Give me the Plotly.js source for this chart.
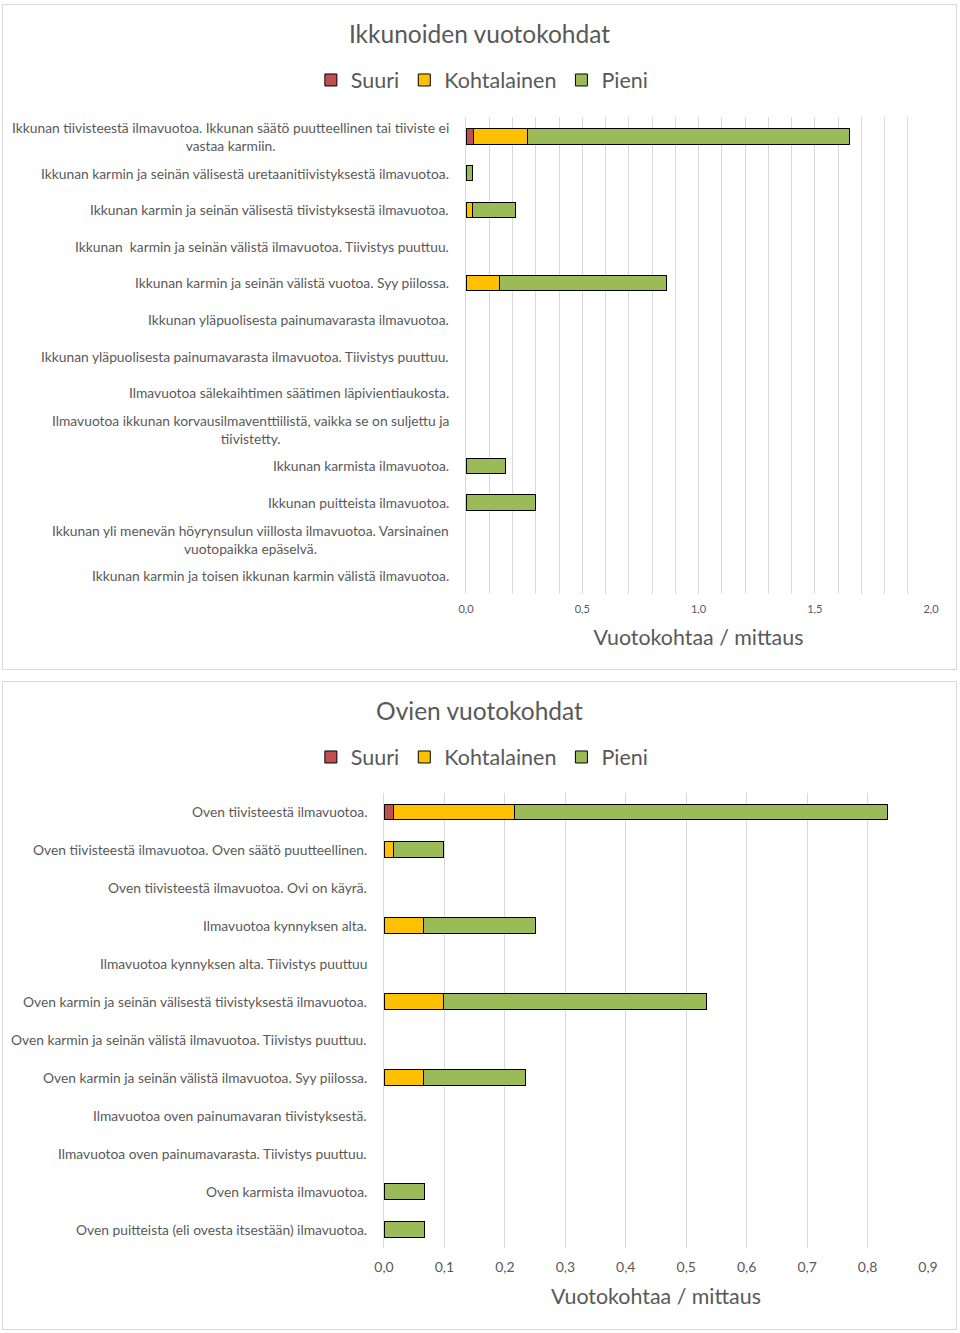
<!DOCTYPE html>
<html>
<head>
<meta charset="utf-8">
<script src="https://cdn.plot.ly/plotly-3.0.1.min.js"></script>
<style>
  html, body { margin:0; padding:0; background:#fff; }
  body { width:960px; height:1333px; position:relative; overflow:hidden; }
  .plot { position:absolute; left:2px; width:955px; }
  .frame { position:absolute; left:2px; width:953px; border:1px solid #d9d9d9; pointer-events:none; }
</style>
</head>
<body>
<div id="top" class="plot" style="top:4px;height:666px;"></div>
<div id="bottom" class="plot" style="top:681px;height:649px;"></div>
<div class="frame" style="top:4px;height:664px;"></div>
<div class="frame" style="top:681px;height:647px;"></div>
<script>
// ---- Data: windows (Ikkunoiden vuotokohdat) ----
const seriesNames = ['Suuri', 'Kohtalainen', 'Pieni'];
const seriesColors = ['#C0504D', '#FFC000', '#9BBB59'];

const windowCategories = [
  'Ikkunan tiivisteestä ilmavuotoa. Ikkunan säätö puutteellinen tai tiiviste ei<br>vastaa karmiin.',
  'Ikkunan karmin ja seinän välisestä uretaanitiivistyksestä ilmavuotoa.',
  'Ikkunan karmin ja seinän välisestä tiivistyksestä ilmavuotoa.',
  'Ikkunan  karmin ja seinän välistä ilmavuotoa. Tiivistys puuttuu.',
  'Ikkunan karmin ja seinän välistä vuotoa. Syy piilossa.',
  'Ikkunan yläpuolisesta painumavarasta ilmavuotoa.',
  'Ikkunan yläpuolisesta painumavarasta ilmavuotoa. Tiivistys puuttuu.',
  'Ilmavuotoa sälekaihtimen säätimen läpivientiaukosta.',
  'Ilmavuotoa ikkunan korvausilmaventtiilistä, vaikka se on suljettu ja<br>tiivistetty.',
  'Ikkunan karmista ilmavuotoa.',
  'Ikkunan puitteista ilmavuotoa.',
  'Ikkunan yli menevän höyrynsulun viillosta ilmavuotoa. Varsinainen<br>vuotopaikka epäselvä.',
  'Ikkunan karmin ja toisen ikkunan karmin välistä ilmavuotoa.'
];
const windowSuuri       = [0.031, null,  null,  null, null,  null, null, null, null, null,  null, null, null];
const windowKohtalainen = [0.232, null,  0.029, null, 0.146, null, null, null, null, null,  null, null, null];
const windowPieni       = [1.386, 0.030, 0.185, null, 0.718, null, null, null, null, 0.168, 0.30, null, null];

// ---- Data: doors (Ovien vuotokohdat) ----
const doorCategories = [
  'Oven tiivisteestä ilmavuotoa.',
  'Oven tiivisteestä ilmavuotoa. Oven säätö puutteellinen.',
  'Oven tiivisteestä ilmavuotoa. Ovi on käyrä.',
  'Ilmavuotoa kynnyksen alta.',
  'Ilmavuotoa kynnyksen alta. Tiivistys puuttuu',
  'Oven karmin ja seinän välisestä tiivistyksestä ilmavuotoa.',
  'Oven karmin ja seinän välistä ilmavuotoa. Tiivistys puuttuu.',
  'Oven karmin ja seinän välistä ilmavuotoa. Syy piilossa.',
  'Ilmavuotoa oven painumavaran tiivistyksestä.',
  'Ilmavuotoa oven painumavarasta. Tiivistys puuttuu.',
  'Oven karmista ilmavuotoa.',
  'Oven puitteista (eli ovesta itsestään) ilmavuotoa.'
];
const doorSuuri       = [0.016, null,  null, null,  null, null,  null, null,  null, null, null,  null];
const doorKohtalainen = [0.200, 0.015, null, 0.066, null, 0.099, null, 0.066, null, null, null,  null];
const doorPieni       = [0.617, 0.084, null, 0.184, null, 0.434, null, 0.168, null, null, 0.067, 0.067];

const axisTitleText = 'Vuotokohtaa / mittaus';
const FONT = 'Lato, "Open Sans", sans-serif';
const TXT = '#595959';
const GRID = '#d9d9d9';

function traces(cats, s, k, p) {
  const vals = [s, k, p];
  return vals.map((v, i) => ({
    type: 'bar', orientation: 'h', name: seriesNames[i],
    y: cats, x: v,
    marker: { color: seriesColors[i], line: { color: '#000', width: 1 } },
    hoverinfo: 'x+name'
  }));
}

function labelAnnotations(cats) {
  return cats.map((c, i) => ({
    text: c, xref: 'paper', x: 0, xshift: -15, xanchor: 'right',
    yref: 'y', y: i, yanchor: 'middle', align: 'center',
    showarrow: false, font: { family: FONT, size: 13.8, color: TXT }
  }));
}

function layout(opts) {
  return {
    width: 955, height: opts.height,
    margin: { l: opts.l, r: opts.r, t: opts.t, b: opts.b },
    paper_bgcolor: '#fff', plot_bgcolor: '#fff',
    separators: ', ',
    barmode: 'stack', bargap: 0.58,
    font: { family: FONT, color: TXT },
    showlegend: true,
    title: { text: opts.title, font: { family: FONT, size: 24.5, color: TXT },
             xref: 'container', x: 0.5, xanchor: 'center',
             yref: 'container', y: 1 - 30 / opts.height, yanchor: 'middle' },
    legend: { orientation: 'h', traceorder: 'normal',
              xref: 'container', x: 0.503, xanchor: 'center',
              yref: 'container', y: 1 - 76 / opts.height, yanchor: 'middle',
              font: { family: FONT, size: 21.5, color: TXT } },
    xaxis: {
      range: opts.range, dtick: opts.dtick, tick0: 0, tickformat: '.1f',
      showgrid: true, gridcolor: GRID, gridwidth: 1, zeroline: false,
      showline: false, ticks: 'outside', ticklen: opts.ticklen, tickcolor: 'rgba(0,0,0,0)',
      tickfont: { family: FONT, size: opts.tickSize, color: TXT },
      minor: opts.minor,
      title: { text: axisTitleText, standoff: opts.standoff,
               font: { family: FONT, size: 21.4, color: TXT } },
      fixedrange: true
    },
    yaxis: {
      type: 'category', categoryorder: 'array', categoryarray: opts.cats,
      autorange: 'reversed', showticklabels: false, showgrid: false,
      zeroline: false, showline: true, linecolor: GRID, linewidth: 1, fixedrange: true
    },
    annotations: labelAnnotations(opts.cats)
  };
}

Plotly.newPlot('top', traces(windowCategories, windowSuuri, windowKohtalainen, windowPieni),
  layout({ height: 666, l: 464, r: 26, t: 113, b: 76, title: 'Ikkunoiden vuotokohdat',
           range: [0, 2], dtick: 0.5, tickSize: 11, ticklen: 5, standoff: 15,
           minor: { dtick: 0.1, tick0: 0, showgrid: true, gridcolor: GRID, gridwidth: 1 },
           cats: windowCategories }),
  { displayModeBar: false, staticPlot: true });

Plotly.newPlot('bottom', traces(doorCategories, doorSuuri, doorKohtalainen, doorPieni),
  layout({ height: 649, l: 382, r: 29, t: 112, b: 82, title: 'Ovien vuotokohdat',
           range: [0, 0.9], dtick: 0.1, tickSize: 14, ticklen: 6, standoff: 15,
           minor: undefined, cats: doorCategories }),
  { displayModeBar: false, staticPlot: true });
</script>
</body>
</html>
